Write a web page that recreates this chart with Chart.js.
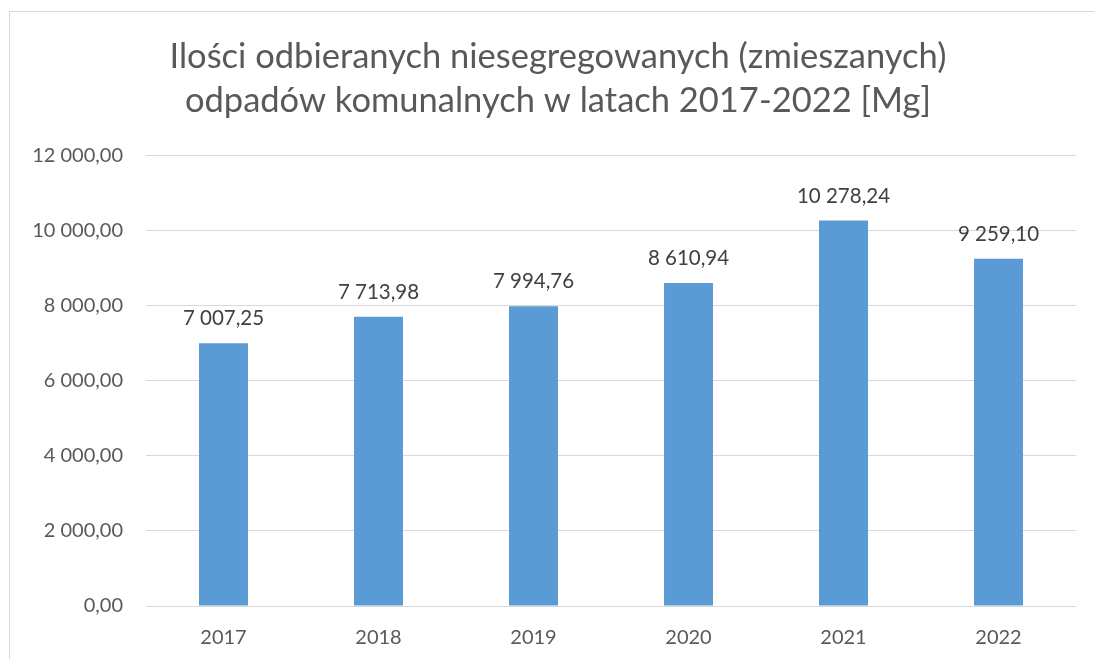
<!DOCTYPE html>
<html lang="pl">

<head>
    <meta charset="UTF-8" />
    <title>Odpady niesegregowane 2017-2022</title>
    <script src="https://cdn.jsdelivr.net/npm/chart.js@4.4.1/dist/chart.umd.min.js"></script>
    <style>
        body { margin: 0; background: #fff; overflow: hidden; }
        #box {
            position: absolute; left: 9px; top: 11px;
            width: 1096px; height: 660px;
            border: 1px solid #d9d9d9;
        }
    </style>
</head>

<body>
    <div id="box"><canvas id="myChart" width="1096" height="660"></canvas></div>

    <script>
        const years = ['2017', '2018', '2019', '2020', '2021', '2022'];
        const amounts = [7007.25, 7713.98, 7994.76, 8610.94, 10278.24, 9259.10];
        const titleLines = [
            'Ilości odbieranych niesegregowanych (zmieszanych)',
            'odpadów komunalnych w latach 2017-2022 [Mg]'
        ];
        const yMin = 0, yMax = 12000, yStep = 2000;

        const FONT = 'Lato, "Open Sans", sans-serif';

        // 12000 -> "12 000,00"
        function plNumber(v) {
            const parts = Number(v).toFixed(2).split('.');
            return parts[0].replace(/\B(?=(\d{3})+(?!\d))/g, ' ') + ',' + parts[1];
        }

        // values above the bars
        const barLabels = {
            id: 'barLabels',
            afterDatasetsDraw(chart) {
                const ctx = chart.ctx;
                ctx.save();
                ctx.font = '20.5px ' + FONT;
                ctx.fillStyle = '#404040';
                ctx.textAlign = 'center';
                ctx.textBaseline = 'alphabetic';
                chart.getDatasetMeta(0).data.forEach((bar, i) => {
                    ctx.fillText(plNumber(amounts[i]), bar.x, bar.y - 18);
                });
                ctx.restore();
            }
        };

        const ctx = document.getElementById('myChart').getContext('2d');
        new Chart(ctx, {
            type: 'bar',
            data: {
                labels: years,
                datasets: [{
                    data: amounts,
                    backgroundColor: '#5b9bd5',
                    borderWidth: 0,
                    categoryPercentage: 1,
                    barPercentage: 0.316
                }]
            },
            options: {
                responsive: false,
                animation: false,
                layout: { padding: { left: 0, right: 0, top: 0, bottom: 16 } },
                plugins: {
                    legend: { display: false },
                    tooltip: { enabled: false },
                    title: {
                        display: true,
                        text: titleLines,
                        color: '#595959',
                        font: { family: FONT, size: 34.5, weight: 'normal', lineHeight: 1.275 },
                        padding: { top: 23, bottom: 33 }
                    }
                },
                scales: {
                    x: {
                        grid: { display: false, drawTicks: false },
                        border: { display: false },
                        ticks: { color: '#595959', font: { family: FONT, size: 20 }, padding: 20 },
                        afterFit(scale) { scale.height = 50; }
                    },
                    y: {
                        min: yMin,
                        max: yMax,
                        grid: { color: '#d9d9d9', lineWidth: 1, drawTicks: false },
                        border: { display: false },
                        ticks: {
                            stepSize: yStep,
                            color: '#595959',
                            font: { family: FONT, size: 20 },
                            padding: 23,
                            callback: value => plNumber(value)
                        },
                        afterFit(scale) { scale.width = 136; }
                    },
                    // empty right-hand margin, keeps the title centred on the frame
                    spacer: {
                        type: 'linear',
                        position: 'right',
                        grid: { display: false },
                        border: { display: false },
                        ticks: { display: false },
                        afterFit(scale) { scale.width = 30; }
                    }
                }
            },
            plugins: [barLabels]
        });
    </script>
</body>

</html>
